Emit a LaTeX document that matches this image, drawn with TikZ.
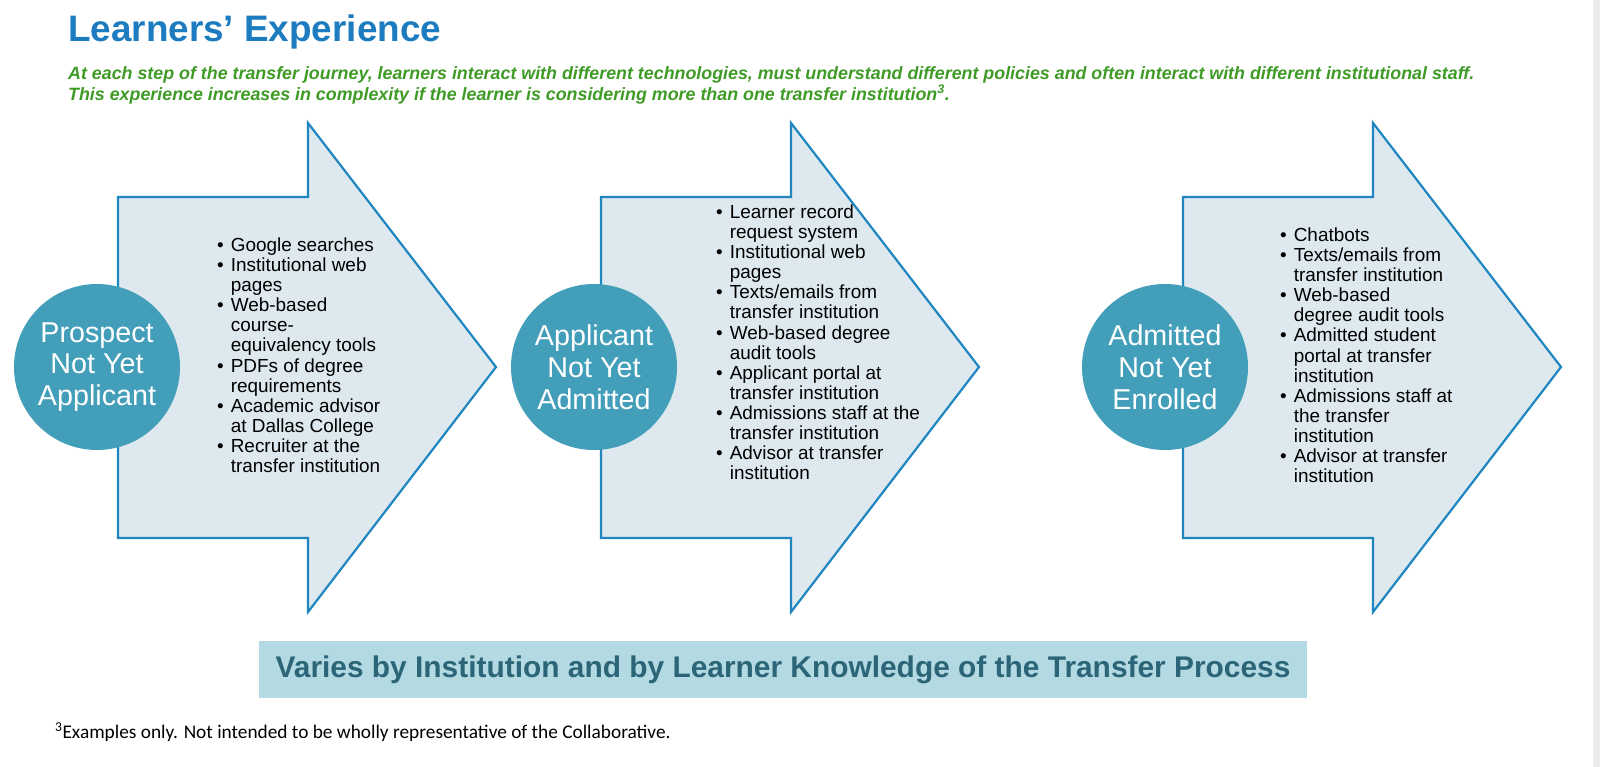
\documentclass[tikz,border=0pt]{standalone}
\usepackage{fontspec}
\setmainfont{Liberation Sans}
\newfontfamily\footfont{Carlito}
\definecolor{arrowfill}{HTML}{DDE9EE}
\definecolor{arrowline}{HTML}{1F86C0}
\definecolor{circfill}{HTML}{439EBA}
\definecolor{titleblue}{HTML}{1C7CBF}
\definecolor{subgreen}{HTML}{3E9B25}
\definecolor{boxfill}{HTML}{B3DAE2}
\definecolor{boxtext}{HTML}{2B6577}
\tikzset{
 stagearrow/.style={fill=arrowfill,draw=arrowline,line width=2.2bp,line join=miter},
 stagecirc/.style={circle,fill=circfill,minimum size=166bp,inner sep=0pt,text=white,font=\fontsize{28.8}{32}\selectfont,align=center},
 itemlist/.style={anchor=north west,inner sep=0pt,font=\fontsize{19}{20.2}\selectfont}
}
\newcommand{\bl}{\textbullet&}
\begin{document}
\begin{tikzpicture}[x=1bp,y=-1bp]
\useasboundingbox (0,0) rectangle (1600,767);
\fill[white] (0,0) rectangle (1600,767);
\fill[black!8] (1593,0) rectangle (1600,767);
\node[anchor=west,inner sep=0pt,text=titleblue,font=\fontsize{37}{42}\selectfont\bfseries] (title) at (68,32) {Learners’ Experience};
\node[anchor=north west,inner sep=0pt,text=subgreen,align=left,font=\fontsize{17.9}{21}\selectfont\bfseries\itshape] (sub) at (68,66) {At each step of the transfer journey, learners interact with different technologies, must understand different policies and often interact with different institutional staff.\\This experience increases in complexity if the learner is considering more than one transfer institution\textsuperscript{3}.};
\foreach \n/\x in {a/118,b/601,c/1183}{
 \draw[stagearrow] (\x,197) -- (\x+190,197) -- (\x+190,123) -- (\x+378,367) -- (\x+190,612) -- (\x+190,538) -- (\x,538) -- cycle;
}
\node[stagecirc] (c1) at (97,367) {Prospect\\Not Yet\\Applicant};
\node[stagecirc] (c2) at (594,367) {Applicant\\Not Yet\\Admitted};
\node[stagecirc] (c3) at (1165,367) {Admitted\\Not Yet\\Enrolled};
\node[itemlist] (l1) at (217,237) {\begin{tabular}{@{}l@{\hspace{7bp}}l@{}}
\bl Google searches\\ \bl Institutional web\\ & pages\\ \bl Web-based\\ & course-\\ & equivalency tools\\ \bl PDFs of degree\\ & requirements\\ \bl Academic advisor\\ & at Dallas College\\ \bl Recruiter at the\\ & transfer institution
\end{tabular}};
\node[itemlist] (l2) at (716,204) {\begin{tabular}{@{}l@{\hspace{7bp}}l@{}}
\bl Learner record\\ & request system\\ \bl Institutional web\\ & pages\\ \bl Texts/emails from\\ & transfer institution\\ \bl Web-based degree\\ & audit tools\\ \bl Applicant portal at\\ & transfer institution\\ \bl Admissions staff at the\\ & transfer institution\\ \bl Advisor at transfer\\ & institution
\end{tabular}};
\node[itemlist] (l3) at (1280,227) {\begin{tabular}{@{}l@{\hspace{7bp}}l@{}}
\bl Chatbots\\ \bl Texts/emails from\\ & transfer institution\\ \bl Web-based\\ & degree audit tools\\ \bl Admitted student\\ & portal at transfer\\ & institution\\ \bl Admissions staff at\\ & the transfer\\ & institution\\ \bl Advisor at transfer\\ & institution
\end{tabular}};
\node[fill=boxfill,minimum width=1048bp,minimum height=57bp,inner sep=0pt,text=boxtext,font=\fontsize{30}{34}\selectfont\bfseries] (box) at (783,669.5) {Varies by Institution and by Learner Knowledge of the Transfer Process};
\node[anchor=west,inner sep=0pt,font=\footfont\fontsize{19.4}{22}\selectfont] (foot) at (55,732) {\textsuperscript{3}Examples only. Not intended to be wholly representative of the Collaborative.};
\end{tikzpicture}
\end{document}
